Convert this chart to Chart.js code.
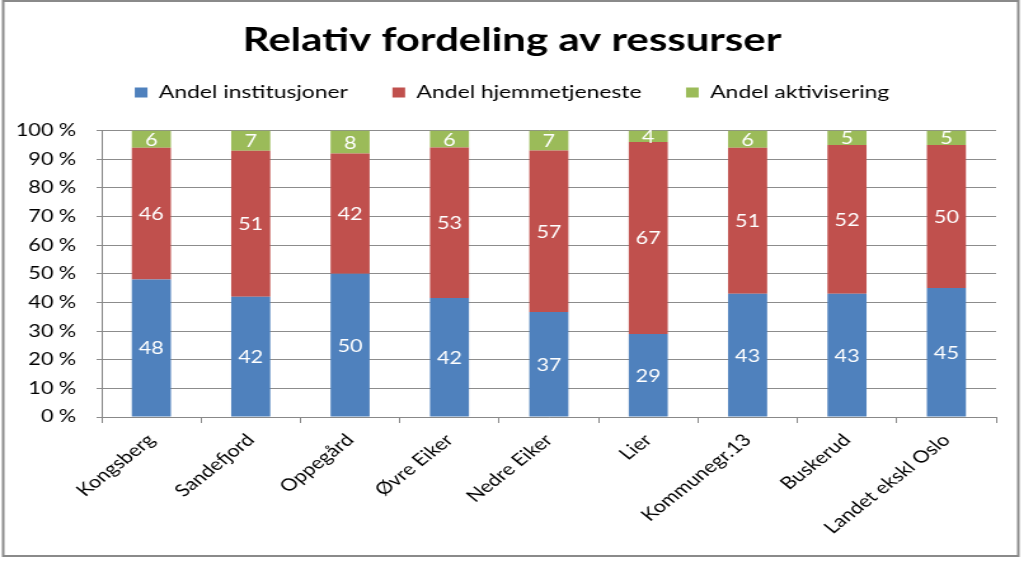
<!DOCTYPE html>
<html>
<head>
<meta charset="utf-8">
<script src="https://cdn.jsdelivr.net/npm/chart.js@4/dist/chart.umd.min.js"></script>
<style>
  body { margin: 0; background: #fff; overflow: hidden; }
  #wrap { width: 1024px; height: 565px; position: relative; overflow: hidden; }
  /* originalen er strukket vannrett, så lerretet tegnes smalere og skaleres ut */
  #chart { width: 806px; height: 565px; transform: scaleX(1.2705); transform-origin: 0 0; }
</style>
</head>
<body>
<div id="wrap"><canvas id="chart" width="806" height="565"></canvas></div>
<script>
// kategorier og verdier lest av figuren (avrundede prosentandeler)
var kommuner = ['Kongsberg', 'Sandefjord', 'Oppegård', 'Øvre Eiker', 'Nedre Eiker', 'Lier', 'Kommunegr.13', 'Buskerud', 'Landet ekskl Oslo'];
var institusjoner = [48, 42, 50, 42, 37, 29, 43, 43, 45];
var hjemmetjeneste = [46, 51, 42, 53, 57, 67, 51, 52, 50];
var aktivisering = [6, 7, 8, 6, 7, 4, 6, 5, 5];
var yTicks = [0, 10, 20, 30, 40, 50, 60, 70, 80, 90, 100];

var fontName = 'Lato, "Open Sans", sans-serif';

// 100 % stablet: hver stolpe skaleres til summen
var share = function(arr, i){
  var sum = institusjoner[i] + hjemmetjeneste[i] + aktivisering[i];
  return arr[i] / sum * 100;
};
var toShare = function(arr){
  return arr.map(function(v, i){ return share(arr, i); });
};

var rawValues = [institusjoner, hjemmetjeneste, aktivisering];

var labelPlugin = {
  id: 'segLabels',
  afterDatasetsDraw: function(chart){
    var ctx = chart.ctx;
    ctx.save();
    ctx.font = '17px ' + fontName;
    ctx.fillStyle = '#ffffff';
    ctx.textAlign = 'center';
    ctx.textBaseline = 'middle';
    chart.data.datasets.forEach(function(ds, di){
      var meta = chart.getDatasetMeta(di);
      meta.data.forEach(function(bar, i){
        var y = (bar.y + bar.base) / 2;
        ctx.fillText(String(rawValues[di][i]), bar.x, y + 1);
      });
    });
    ctx.restore();
  }
};

var framePlugin = {
  id: 'frame',
  afterDraw: function(chart){
    var ctx = chart.ctx;
    ctx.save();
    ctx.strokeStyle = '#8a8a8a';
    ctx.lineWidth = 2;
    ctx.strokeRect(2.5, 1, 799, 555);
    ctx.restore();
  }
};

var chart = new Chart(document.getElementById('chart'), {
  type: 'bar',
  data: {
    labels: kommuner,
    datasets: [
      { label: 'Andel institusjoner', data: toShare(institusjoner), backgroundColor: '#4F81BD' },
      { label: 'Andel hjemmetjeneste', data: toShare(hjemmetjeneste), backgroundColor: '#C0504D' },
      { label: 'Andel aktivisering', data: toShare(aktivisering), backgroundColor: '#9BBB59' }
    ]
  },
  options: {
    responsive: false,
    animation: false,
    devicePixelRatio: 1,
    layout: { padding: { left: 2, right: 2, top: 0, bottom: 0 } },
    datasets: { bar: { barPercentage: 0.393, categoryPercentage: 1 } },
    plugins: {
      title: {
        display: true,
        text: 'Relativ fordeling av ressurser',
        color: '#000',
        font: { family: fontName, size: 33, weight: 'bold' },
        padding: { top: 21, bottom: -12 }
      },
      // tom undertittel brukes som luft mellom tegnforklaring og plott
      subtitle: {
        display: true,
        text: '',
        weight: 500,
        font: { size: 19, lineHeight: 1 },
        padding: 0
      },
      legend: {
        display: true,
        labels: {
          color: '#000',
          font: { family: fontName, size: 18 },
          boxWidth: 10,
          boxHeight: 10,
          padding: 35
        }
      },
      tooltip: { enabled: false }
    },
    scales: {
      x: {
        stacked: true,
        grid: { offset: true, drawOnChartArea: false, drawTicks: true, tickLength: 6, color: '#888' },
        border: { color: '#888', width: 1 },
        ticks: {
          color: '#000',
          font: { family: fontName, size: 17 },
          minRotation: 45,
          maxRotation: 45,
          padding: 7
        },
        afterFit: function(scale){ scale.height = 148; }
      },
      y: {
        stacked: true,
        min: 0,
        max: 100,
        afterBuildTicks: function(scale){
          scale.ticks = yTicks.map(function(v){ return { value: v }; });
        },
        grid: { color: '#8c8c8c', tickLength: 4 },
        border: { color: '#888', width: 1 },
        ticks: {
          color: '#000',
          font: { family: fontName, size: 17 },
          padding: 16,
          callback: function(v){ return v + ' %'; }
        },
        afterFit: function(scale){ scale.width = 78; }
      },
      // tom akse til høyre gir luft mellom plott og ramme
      spacer: {
        type: 'linear',
        position: 'right',
        display: true,
        grid: { display: false, drawTicks: false },
        border: { display: false },
        ticks: { display: false },
        afterFit: function(scale){ scale.width = 20; }
      }
    }
  },
  plugins: [labelPlugin, framePlugin]
});
</script>
</body>
</html>
